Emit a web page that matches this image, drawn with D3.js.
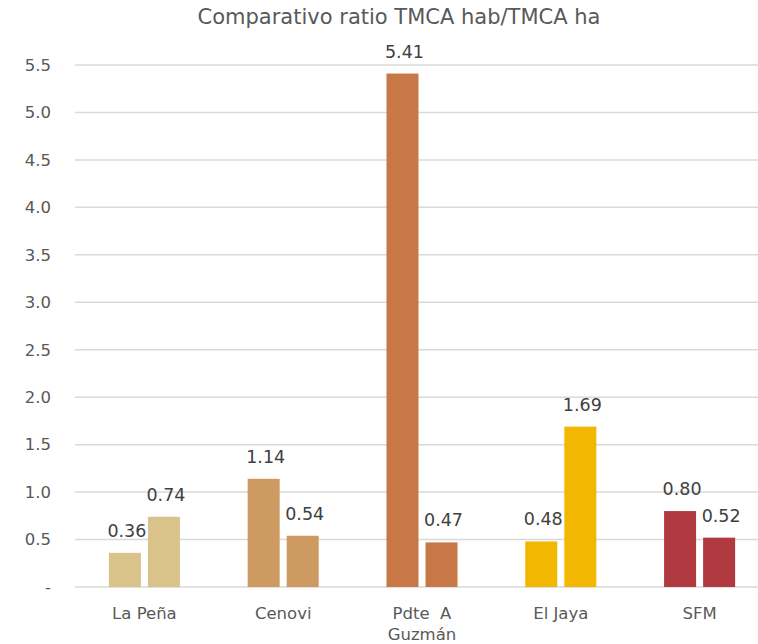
<!DOCTYPE html>
<html><head><meta charset="utf-8">
<script src="https://cdn.jsdelivr.net/npm/d3@7"></script>
<style>body{margin:0;background:#fff}svg{display:block}</style>
</head><body>
<script>
const categories = ["La Peña", "Cenovi", "Pdte  A Guzmán", "El Jaya", "SFM"];
const seriesA = [0.36, 1.14, 5.41, 0.48, 0.80];
const seriesB = [0.74, 0.54, 0.47, 1.69, 0.52];
const colors = ["#D9C38B", "#CD9B62", "#C87847", "#F2B700", "#B03A40"];
const yTicks = [0, 0.5, 1.0, 1.5, 2.0, 2.5, 3.0, 3.5, 4.0, 4.5, 5.0, 5.5];
const title = "Comparativo ratio TMCA hab/TMCA ha";

const W = 758, H = 644;
const svg = d3.select("body").append("svg").attr("width", W).attr("height", H);
const font = "'DejaVu Sans', sans-serif";

const y = d3.scaleLinear().domain([0, 5.5]).range([587, 65]);
const x0 = d3.scaleBand().domain(categories).range([75, 769]).paddingInner(0.488).paddingOuter(0.244);
const x1 = d3.scaleBand().domain([0, 1]).range([0, x0.bandwidth()]).paddingInner(0.18);

// gridlines
svg.append("g").selectAll("line").data(yTicks).join("line")
  .attr("x1", 75).attr("x2", W).attr("y1", d => y(d)).attr("y2", d => y(d))
  .attr("stroke", "#D9D9D9").attr("stroke-width", 1.5);

// y axis labels
const yAxis = d3.axisLeft(y).tickValues(yTicks).tickSize(0).tickPadding(0)
  .tickFormat(d => d === 0 ? "-" : d3.format(".1f")(d));
const ya = svg.append("g").attr("transform", "translate(51,0)").call(yAxis);
ya.select(".domain").remove();
ya.selectAll("text").attr("font-family", font).attr("font-size", 16.5).attr("fill", "#595959");

// bars
const data = [];
categories.forEach((c, i) => {
  data.push({c, i, s: 0, v: seriesA[i]});
  data.push({c, i, s: 1, v: seriesB[i]});
});
svg.append("g").selectAll("rect").data(data).join("rect")
  .attr("x", d => x0(d.c) + x1(d.s))
  .attr("y", d => y(d.v))
  .attr("width", x1.bandwidth())
  .attr("height", d => y(0) - y(d.v))
  .attr("fill", d => colors[d.i]);

// value labels
svg.append("g").selectAll("text").data(data).join("text")
  .attr("x", d => x0(d.c) + x1(d.s) + x1.bandwidth() / 2 + 2)
  .attr("y", d => y(d.v) - 16)
  .attr("text-anchor", "middle")
  .attr("font-family", font).attr("font-size", 17.5).attr("fill", "#404040")
  .text(d => d3.format(".2f")(d.v));

// x axis labels
const xa = svg.append("g");
categories.forEach(c => {
  const lines = c === "Pdte  A Guzmán" ? ["Pdte  A", "Guzmán"] : [c];
  const t = xa.append("text")
    .attr("x", x0(c) + x0.bandwidth() / 2)
    .attr("y", 619)
    .attr("text-anchor", "middle")
    .attr("font-family", font).attr("font-size", 16.5).attr("fill", "#595959")
    .style("white-space", "pre");
  lines.forEach((l, k) => t.append("tspan").attr("x", x0(c) + x0.bandwidth() / 2).attr("dy", k === 0 ? 0 : 21).text(l));
});

// title
svg.append("text").attr("x", 399).attr("y", 24).attr("text-anchor", "middle")
  .attr("font-family", font).attr("font-size", 21).attr("fill", "#595959")
  .text(title);
</script>
</body></html>
